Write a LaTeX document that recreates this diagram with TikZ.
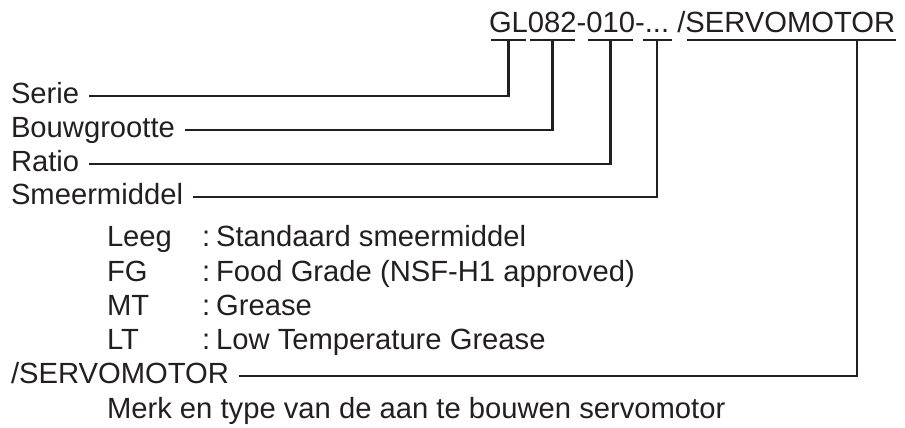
\documentclass[tikz,border=0pt]{standalone}
\usepackage{fontspec}
\setmainfont{Liberation Sans}
\usepackage{xcolor}
\usetikzlibrary{calc}
\definecolor{ink}{HTML}{231F20}

\begin{document}
\begin{tikzpicture}[x=1pt,y=-1pt,line width=2.6pt,every node/.style={inner sep=0pt,outer sep=0pt,text=ink,font=\fontsize{29.2}{34}\selectfont},lbl/.style={anchor=west,text height=20.5pt,text depth=6pt},part/.style={anchor=base west,text height=20.5pt,text depth=7pt},uline/.style={draw=ink,shorten <=2pt,shorten >=2pt},conn/.style={draw=ink}]
\useasboundingbox (0,0) rectangle (905,428);
% type code
\node[part] (gl) at (489,33) {GL};
\node[part] (size) at (gl.base east) {082};
\node[part] (dash1) at (size.base east) {-};
\node[part] (ratio) at (dash1.base east) {010};
\node[part] (dash2) at (ratio.base east) {-};
\node[part] (lube) at (dash2.base east) {...};
\node[part] (slash) at (lube.base east) {\ /};
\node[part] (motor) at (slash.base east) {SERVOMOTOR};
\draw[uline] (gl.south west)--(gl.south east);
\draw[uline] (size.south west)--(size.south east);
\draw[uline] (ratio.south west)--(ratio.south east);
\draw[uline,shorten <=-2pt,shorten >=-3pt] (lube.south west)--(lube.south east);
\draw[uline,shorten <=2pt,shorten >=-1pt] (motor.south west)--(motor.south east);
\coordinate (motortap) at ($(motor.south west)!0.818!(motor.south east)$);
% labels
\node[lbl] (serie) at (11,96) {Serie};
\node[lbl] (bouw) at (11,130) {Bouwgrootte};
\node[lbl] (ratiolbl) at (11,164) {Ratio};
\node[lbl] (smeer) at (11,197) {Smeermiddel};
\node[lbl] (leeg) at (107,239) {Leeg};
\node[lbl] (leegtxt) at (202,239) {:\hspace{6pt}Standaard smeermiddel};
\node[lbl] (fg) at (107,274) {FG};
\node[lbl] (fgtxt) at (202,274) {:\hspace{6pt}Food Grade (NSF-H1 approved)};
\node[lbl] (mt) at (107,308) {MT};
\node[lbl] (mttxt) at (202,308) {:\hspace{6pt}Grease};
\node[lbl] (lt) at (107,342) {LT};
\node[lbl] (lttxt) at (202,342) {:\hspace{6pt}Low Temperature Grease};
\node[lbl] (servo) at (11,376) {/SERVOMOTOR};
\node[lbl] (merk) at (107,411) {Merk en type van de aan te bouwen servomotor};
% connectors
\draw[conn] ([xshift=10pt]serie.east) -| (gl.south);
\draw[conn] ([xshift=10pt]bouw.east) -| (size.south);
\draw[conn] ([xshift=10pt]ratiolbl.east) -| (ratio.south);
\draw[conn] ([xshift=10pt]smeer.east) -| (lube.south);
\draw[conn] ([xshift=10pt]servo.east) -| (motortap);
\end{tikzpicture}
\end{document}
